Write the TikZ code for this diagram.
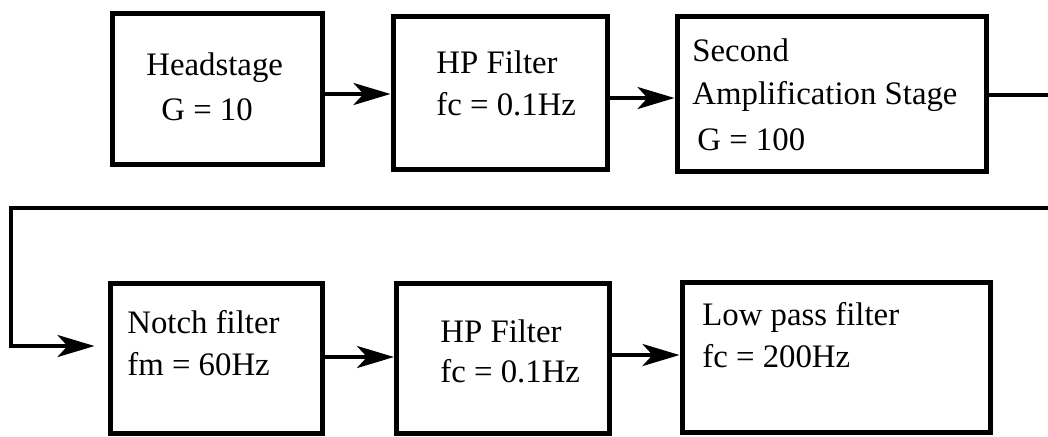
\documentclass[tikz,border=0pt]{standalone}
\usepackage{fontspec}
\setmainfont{Liberation Serif}
\usetikzlibrary{arrows.meta}
\tikzset{
  blk/.style={draw, line width=2.5pt, rectangle, inner sep=0pt},
  lbl/.style={anchor=base west, inner sep=0pt, font=\fontsize{16.4}{20}\selectfont},
  wire/.style={draw, line width=2pt},
  arr/.style={wire, -{Stealth[length=18.5pt, width=11pt, inset=5pt]}}
}
\begin{document}
\begin{tikzpicture}[x=0.5pt, y=-0.5pt]
\useasboundingbox (0,0) rectangle (1048,436);
% blocks
\node[blk, minimum width=105pt, minimum height=75.5pt] (b1) at (217,88.5) {};
\node[blk, minimum width=107pt, minimum height=76.5pt] (b2) at (500,92.5) {};
\node[blk, minimum width=154.5pt, minimum height=77.5pt] (b3) at (831.5,93.5) {};
\node[blk, minimum width=106pt, minimum height=75pt] (b4) at (216,358) {};
\node[blk, minimum width=106.5pt, minimum height=75pt] (b5) at (503,358) {};
\node[blk, minimum width=154pt, minimum height=75pt] (b6) at (836,357) {};
% texts
\node[lbl] (t1a) at (146,75) {Headstage};
\node[lbl] (t1b) at (161,120) {G = 10};
\node[lbl] (t2a) at (436,73) {HP Filter};
\node[lbl] (t2b) at (436,115) {fc = 0.1Hz};
\node[lbl] (t3a) at (692,61) {Second};
\node[lbl] (t3b) at (692,104) {Amplification Stage};
\node[lbl] (t3c) at (697,150) {G = 100};
\node[lbl] (t4a) at (127,333) {Notch filter};
\node[lbl] (t4b) at (127,375) {fm = 60Hz};
\node[lbl] (t5a) at (440,342) {HP Filter};
\node[lbl] (t5b) at (440,382) {fc = 0.1Hz};
\node[lbl] (t6a) at (702,325) {Low pass filter};
\node[lbl] (t6b) at (702,367) {fc = 200Hz};
% connector coordinates
\coordinate (r1) at (1048,95);
\coordinate (r2) at (1048,208);
\coordinate (l1) at (11,208);
% connectors
\draw[arr] (b1.east |- 0,94) -- (b2.west |- 0,94);
\draw[arr] (b2.east |- 0,98) -- (b3.west |- 0,98);
\draw[wire] (b3.east |- 0,95) -- (r1);
\draw[arr, shorten >=6.5pt] (r2) -- (l1) |- (b4.west |- 0,346);
\draw[arr] (b4.east |- 0,357) -- (b5.west |- 0,357);
\draw[arr] (b5.east |- 0,355) -- (b6.west |- 0,355);
\end{tikzpicture}
\end{document}
